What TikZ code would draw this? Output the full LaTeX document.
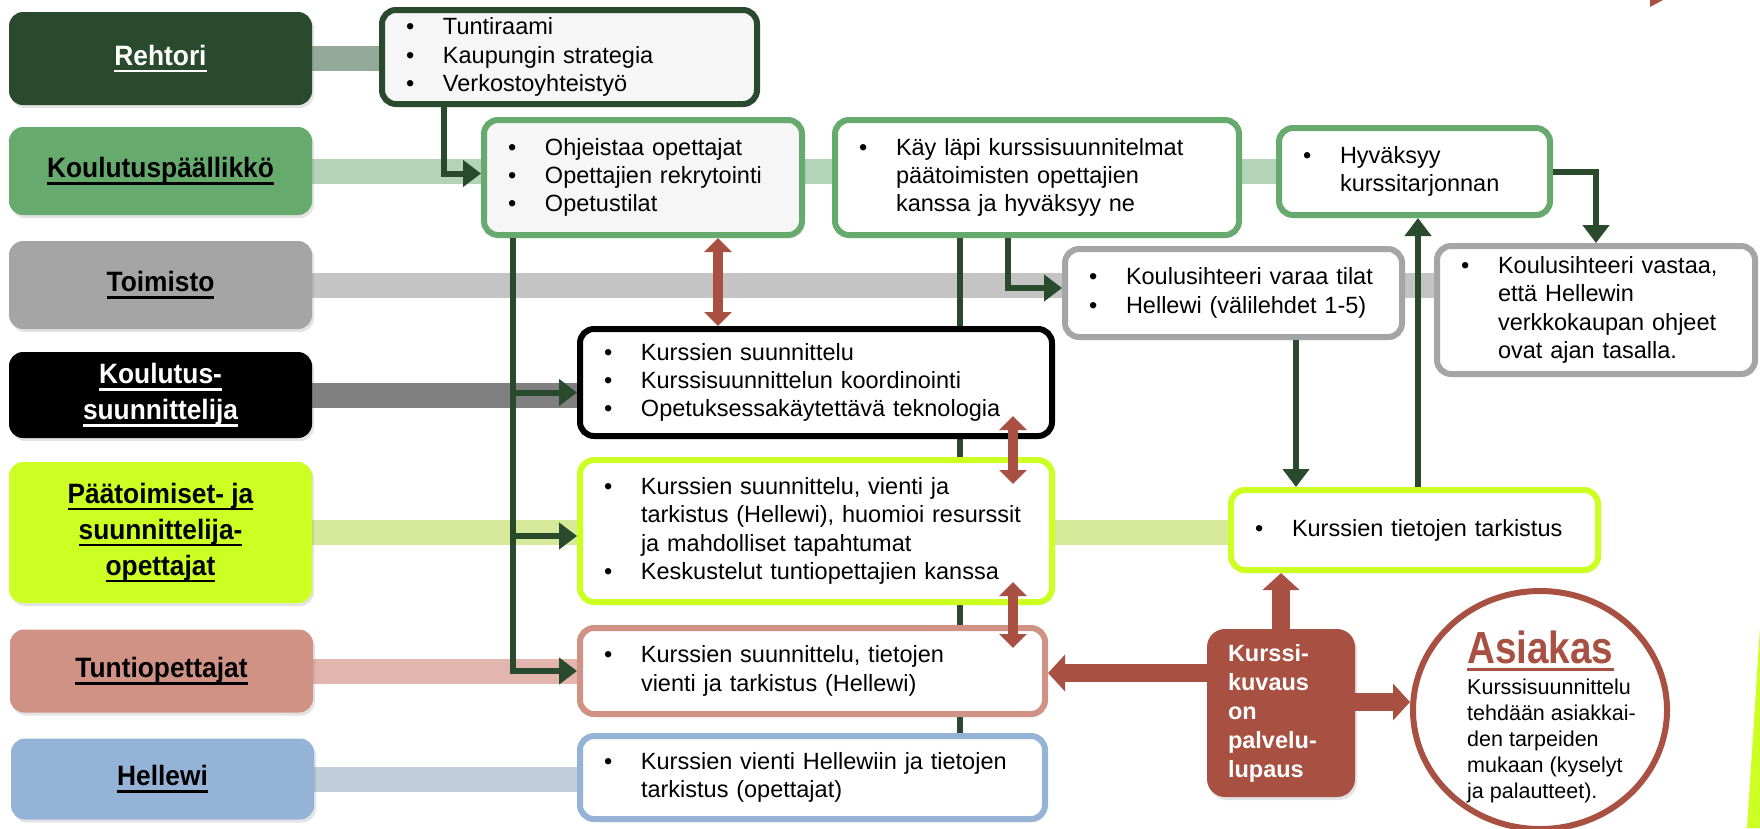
\documentclass[tikz,border=0pt]{standalone}
\usepackage{fontspec}
\setmainfont{Liberation Sans}
\newfontfamily\rolefam[FakeStretch=0.94]{Liberation Sans}
\newfontfamily\asifam[FakeStretch=0.86]{Liberation Sans}
\usetikzlibrary{arrows.meta,calc,shadows,shapes.geometric}
\definecolor{dgreen}{HTML}{2A4A2E}
\definecolor{mgreen}{HTML}{66AA6E}
\definecolor{rgray}{HTML}{A5A5A5}
\definecolor{lime}{HTML}{CCFF22}
\definecolor{salmon}{HTML}{D09285}
\definecolor{lblue}{HTML}{95B3D7}
\definecolor{brick}{HTML}{A85142}
\definecolor{boxgray}{HTML}{F6F6F6}
\definecolor{bandA}{HTML}{93A99A}
\definecolor{bandB}{HTML}{B3D4B6}
\definecolor{bandC}{HTML}{C4C4C4}
\definecolor{bandD}{HTML}{808080}
\definecolor{bandE}{HTML}{D6E99B}
\definecolor{bandF}{HTML}{E2B6AE}
\definecolor{bandG}{HTML}{C0CDDB}
\pgfdeclarelayer{background}
\pgfsetlayers{background,main}
\newcommand\myul[1]{\leavevmode\setbox0\hbox{#1}\rlap{\copy0}\rule[-7pt]{\wd0}{2.2pt}}
\newcommand\myulb[1]{\leavevmode\setbox0\hbox{#1}\rlap{\copy0}\rule[-7pt]{\wd0}{3pt}}
\newcommand\bitem[1]{\mbox{\makebox[37pt][l]{\textbullet}#1}}
\newcommand\bcont[1]{\mbox{\hspace*{37pt}#1}}
\newcommand\rolefont{\rolefam\bfseries\fontsize{28}{36}\selectfont}
\newcommand\cfont{\fontsize{23.5}{28.3}\selectfont}
\begin{document}
\begin{tikzpicture}[x=1pt,y=-1pt,
  shad/.style={drop shadow={opacity=0.22,shadow xshift=2pt,shadow yshift=-3pt}},
  role/.style={fill=#1, rounded corners=14pt, minimum width=303pt, inner sep=0pt, align=center, font=\rolefont, shad},
  cbox/.style={draw=#1, fill=white, line width=6pt, rounded corners=14pt, inner xsep=24pt, inner ysep=0pt, align=left, font=\cfont, shad},
  band/.style={line width=25pt},
  gline/.style={draw=dgreen, line width=6pt},
  garrow/.style={draw=dgreen, line width=6pt, -{Triangle[width=26pt,length=18pt]}},
  rdarrow/.style={draw=brick, line width=10pt, {Triangle[width=27pt,length=14pt]}-{Triangle[width=27pt,length=14pt]}},
  rfat/.style={draw=brick, line width=18pt, -{Triangle[width=36pt,length=17pt]}}
]
\useasboundingbox (0,0) rectangle (1760,828);

% decorations
\fill[brick] (1650,0) -- (1663,0) -- (1650,7) -- cycle;
\fill[lime] (1747,828) -- (1760,828) -- (1760,627) -- cycle;

% role boxes
\node[role=dgreen, text=white, minimum height=93pt] (reh) at (160.5,58.5) {\myul{Rehtori}};
\node[role=mgreen, minimum height=88pt] (kou) at (160.5,171) {\myul{Koulutuspäällikkö}};
\node[role=rgray, minimum height=88pt] (toi) at (160.5,285) {\myul{Toimisto}};
\node[role=black, text=white, minimum height=86pt] (ksu) at (160.5,395) {\myul{Koulutus-}\\\myul{suunnittelija}};
\node[role=lime, minimum height=141pt] (pat) at (160.5,532.5) {\myul{Päätoimiset- ja}\\\myul{suunnittelija-}\\\myul{opettajat}};
\node[role=salmon, minimum height=83pt] (tup) at (161.5,671) {\myul{Tuntiopettajat}};
\node[role=lblue, minimum height=81pt] (hlw) at (162.5,779) {\myul{Hellewi}};

% content boxes
\node[cbox=dgreen, fill=boxgray, minimum width=375pt, minimum height=94pt, text width=327pt] (top) at (569.5,57)
  {\bitem{Tuntiraami}\\\bitem{Kaupungin strategia}\\\bitem{Verkostoyhteistyö}};
\node[cbox=mgreen, fill=boxgray, minimum width=318pt, minimum height=115pt, text width=270pt] (ohj) at (643,177.5)
  {\bitem{Ohjeistaa opettajat}\\\bitem{Opettajien rekrytointi}\\\bitem{Opetustilat}};
\node[cbox=mgreen, minimum width=404pt, minimum height=115pt, text width=356pt] (kay) at (1037,177.5)
  {\bitem{Käy läpi kurssisuunnitelmat}\\\bcont{päätoimisten opettajien}\\\bcont{kanssa ja hyväksyy ne}};
\node[cbox=mgreen, minimum width=271pt, minimum height=87pt, text width=223pt] (hyv) at (1414.5,171.5)
  {\bitem{Hyväksyy}\\\bcont{kurssitarjonnan}};
\node[cbox=rgray, minimum width=337pt, minimum height=88pt, text width=289pt] (kos) at (1233.5,293)
  {\bitem{Koulusihteeri varaa tilat}\\\bitem{Hellewi (välilehdet 1-5)}};
\node[cbox=rgray, minimum width=318pt, minimum height=128pt, text width=270pt] (vas) at (1596,310)
  {\bitem{Koulusihteeri vastaa,}\\\bcont{että Hellewin}\\\bcont{verkkokaupan ohjeet}\\\bcont{ovat ajan tasalla.}};
\node[cbox=black, minimum width=472pt, minimum height=107pt, text width=424pt] (blk) at (816,382.5)
  {\bitem{Kurssien suunnittelu}\\\bitem{Kurssisuunnittelun koordinointi}\\\bitem{Opetuksessakäytettävä teknologia}};
\node[cbox=lime, minimum width=472pt, minimum height=142pt, text width=424pt] (lim) at (816,531)
  {\bitem{Kurssien suunnittelu, vienti ja}\\\bcont{tarkistus (Hellewi), huomioi resurssit}\\\bcont{ja mahdolliset tapahtumat}\\\bitem{Keskustelut tuntiopettajien kanssa}};
\node[cbox=lime, minimum width=367pt, minimum height=80pt, text width=319pt] (kti) at (1414.5,530)
  {\bitem{Kurssien tietojen tarkistus}};
\node[cbox=salmon, minimum width=465pt, minimum height=86pt, text width=417pt] (tun) at (812.5,671)
  {\bitem{Kurssien suunnittelu, tietojen}\\\bcont{vienti ja tarkistus (Hellewi)}};
\node[cbox=lblue, minimum width=465pt, minimum height=83pt, text width=417pt] (hel) at (812.5,777.5)
  {\bitem{Kurssien vienti Hellewiin ja tietojen}\\\bcont{tarkistus (opettajat)}};

% service promise and customer
\node[fill=brick, rounded corners=18pt, minimum width=148pt, minimum height=168pt, text width=106pt, inner xsep=21pt, inner ysep=0pt, align=left, text=white, font=\bfseries\fontsize{23.5}{29}\selectfont, shad] (kk) at (1281,713)
  {Kurssi-\\kuvaus\\on\\palvelu-\\lupaus};
\node[ellipse, draw=brick, line width=6pt, fill=white, minimum width=254pt, minimum height=238pt, inner sep=0pt, shad] (asi) at (1540,710) {};
\node[anchor=north west, inner sep=0pt, align=left, font=\fontsize{21.5}{26}\selectfont] (asiT) at (1467,631)
  {{\color{brick}\asifam\bfseries\fontsize{45}{48}\selectfont\myulb{Asiakas}}\\[5pt]Kurssisuunnittelu\\tehdään asiakkai-\\den tarpeiden\\mukaan (kyselyt\\ja palautteet).};

% background bands and hidden line
\begin{pgfonlayer}{background}
\draw[band, draw=bandA] (reh.east) -- (reh.east -| top.west);
\draw[band, draw=bandB] (kou.east) -- (kou.east -| hyv.west);
\draw[band, draw=bandC] (toi.east) -- (toi.east -| vas.west);
\draw[band, draw=bandD] (ksu.east) -- (ksu.east -| blk.west);
\draw[band, draw=bandE] (pat.east) -- (pat.east -| kti.west);
\draw[band, draw=bandF] (tup.east) -- (tup.east -| tun.west);
\draw[band, draw=bandG] (hlw.east) -- (hlw.east -| hel.west);
\coordinate (v2) at ([xshift=128pt]kay.south west);
\draw[gline] (v2) -- (v2 |- hel.north);
\end{pgfonlayer}

% green connectors
\coordinate (t1) at ([xshift=65pt]top.south west);
\draw[garrow] (t1) |- ([yshift=4pt]ohj.west);
\coordinate (v1) at ([xshift=32pt]ohj.south west);
\draw[garrow] (v1) |- (tun.west);
\coordinate (bk) at ([yshift=-10pt]blk.west);
\draw[garrow] (bk -| v1) -- (bk);
\coordinate (lk) at ([yshift=-5pt]lim.west);
\draw[garrow] (lk -| v1) -- (lk);
\coordinate (v3) at ([xshift=176pt]kay.south west);
\draw[garrow] (v3) |- ([yshift=5pt]kos.west);
\coordinate (v4) at ([xshift=234pt]kos.south west);
\draw[garrow] (v4) -- (v4 |- kti.north);
\coordinate (v5) at ([xshift=190pt]kti.north west);
\draw[garrow] (v5) -- (v5 |- hyv.south);
\draw[garrow] (hyv.east) -| (vas.north);

% red connectors
\coordinate (r1) at ([xshift=237pt]ohj.south west);
\draw[rdarrow] (r1) -- (r1 |- blk.north);
\coordinate (r2a) at ([xshift=-42pt,yshift=23pt]blk.south east);
\coordinate (r2b) at ([xshift=-42pt,yshift=-27pt]lim.north east);
\draw[rdarrow] (r2a) -- (r2b);
\coordinate (r3a) at ([xshift=-42pt,yshift=23pt]lim.south east);
\coordinate (r3b) at ([xshift=-35pt,yshift=-23pt]tun.north east);
\draw[rdarrow] (r3a) -- (r3b);
\coordinate (k1) at ([yshift=40pt]kk.west);
\draw[rfat] (k1) -- (k1 -| tun.east);
\coordinate (k2) at ([yshift=11pt]kk.east);
\draw[rfat] (k2) -- (k2 -| asi.west);
\draw[rfat] (kk.north) -- (kk.north |- kti.south);
\end{tikzpicture}
\end{document}
